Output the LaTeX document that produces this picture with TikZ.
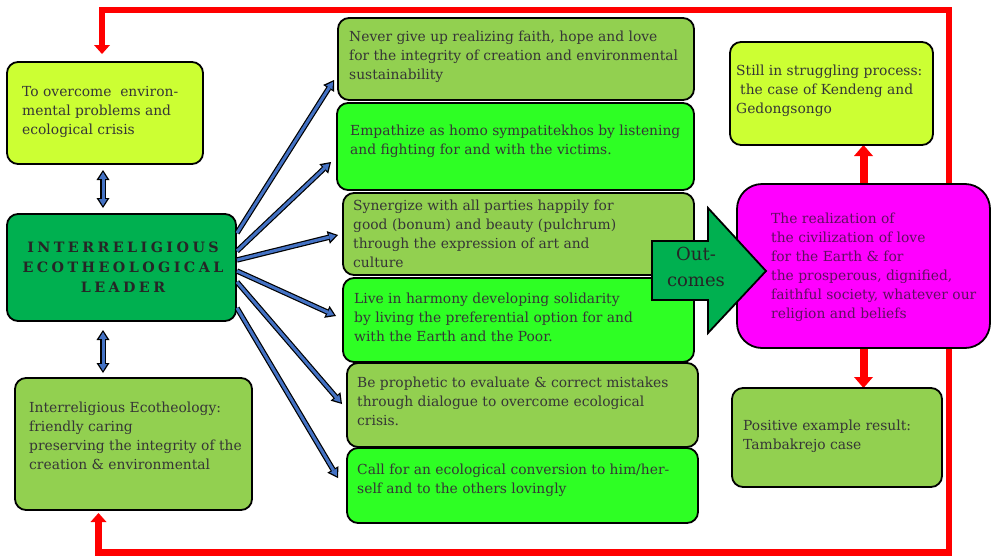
\documentclass[tikz,border=0pt]{standalone}
\usepackage{fontspec}
\setmainfont{DejaVu Serif}
\usetikzlibrary{calc,arrows.meta}
\definecolor{ylg}{HTML}{CCFF33}
\definecolor{olg}{HTML}{92D050}
\definecolor{brg}{HTML}{2EFF24}
\definecolor{ldg}{HTML}{00B050}
\definecolor{mgc}{HTML}{FF00FF}
\definecolor{blu}{HTML}{4472C4}
\definecolor{txtg}{HTML}{363636}
\definecolor{txtm}{HTML}{5E0F5E}
\newcommand\fs{\fontsize{13.85}{19}\selectfont}
\newcommand\tl{\rule{0pt}{12pt}}
\newcommand\bluearr[2]{\draw[bo] #1 -- #2; \draw[bi] #1 -- #2;}
\newcommand\bluedbl[2]{\draw[dbo] #1 -- #2; \draw[dbi] #1 -- #2;}
\pgfdeclarelayer{bg}
\pgfsetlayers{bg,main}
\begin{document}
\begin{tikzpicture}[x=1pt,y=-1pt,
 box/.style={draw=black, line width=1.8pt, rounded corners=11pt, anchor=north west, inner sep=0pt, outer sep=0pt},
 txt/.style={anchor=north west, inner sep=0pt, align=left, font=\fs, text=txtg},
 redl/.style={draw=red, line width=6.5pt},
 redtip/.style={-{Triangle[length=9pt,width=16pt,line width=0pt]}},
 fatred/.style={draw=red, line width=8pt, -{Triangle[length=11pt,width=19pt,line width=0pt]}},
 bo/.style={line width=5.4pt, draw=black, -{Triangle[length=10pt,width=13pt,line width=0pt]}},
 bi/.style={line width=3.0pt, draw=blu, shorten >=2.2pt, -{Triangle[length=6.6pt,width=8pt,line width=0pt]}},
 dbo/.style={line width=5.4pt, draw=black, {Triangle[length=10pt,width=13pt,line width=0pt]}-{Triangle[length=10pt,width=13pt,line width=0pt]}},
 dbi/.style={line width=3.0pt, draw=blu, shorten >=2.2pt, shorten <=2.2pt, {Triangle[length=6.6pt,width=8pt,line width=0pt]}-{Triangle[length=6.6pt,width=8pt,line width=0pt]}},
]
\useasboundingbox (0,0) rectangle (992,557);
\begin{pgfonlayer}{bg}
\fill[white] (0,0) rectangle (992,557);
\end{pgfonlayer}

% left column
\node[box, fill=ylg, minimum width=196pt, minimum height=102pt] (A) at (7,62) {};
\node[box, fill=ldg, minimum width=229pt, minimum height=107pt, align=center, text=black!85,
  font={\fontsize{14.3}{20}\selectfont\bfseries\addfontfeatures{LetterSpace=24}}] (L) at (7,214)
  {\hspace*{3pt}INTERRELIGIOUS\\\hspace*{3pt}ECOTHEOLOGICAL\\\hspace*{3pt}LEADER};
\node[box, fill=olg, minimum width=237pt, minimum height=132pt] (E) at (15,378) {};

% middle column
\node[box, fill=olg, minimum width=356pt, minimum height=82pt] (M1) at (338,18) {};
\node[box, fill=brg, minimum width=357pt, minimum height=87pt] (M2) at (337,103) {};
\node[box, fill=olg, minimum width=351pt, minimum height=82pt] (M3) at (343,193) {};
\node[box, fill=brg, minimum width=351pt, minimum height=84pt] (M4) at (343,278) {};
\node[box, fill=olg, minimum width=351pt, minimum height=84pt] (M5) at (347,363) {};
\node[box, fill=brg, minimum width=351pt, minimum height=75pt] (M6) at (347,448) {};

% right column
\node[box, fill=ylg, minimum width=203pt, minimum height=103pt] (TR) at (730,42) {};
\node[box, fill=mgc, minimum width=253pt, minimum height=164pt, rounded corners=25pt] (MG) at (737,184) {};
\node[box, fill=olg, minimum width=210pt, minimum height=99pt] (BR) at (732,388) {};

% texts
\node[txt] (At) at ($(A.north west)+(15,22)$) {\tl To overcome\ \ environ-\\mental problems and\\ecological crisis};
\node[txt] (Et) at ($(E.north west)+(14,22)$) {\tl Interreligious Ecotheology:\\friendly caring\\preserving the integrity of the\\creation \& environmental};
\node[txt] (M1t) at ($(M1.north west)+(11,11)$) {\tl Never give up realizing faith, hope and love\\for the integrity of creation and environmental\\sustainability};
\node[txt] (M2t) at ($(M2.north west)+(13,20)$) {\tl Empathize as homo sympatitekhos by listening\\and fighting for and with the victims.};
\node[txt] (M3t) at ($(M3.north west)+(10,5)$) {\tl Synergize with all parties happily for\\good (bonum) and beauty (pulchrum)\\through the expression of art and\\culture};
\node[txt] (M4t) at ($(M4.north west)+(11,13)$) {\tl Live in harmony developing solidarity\\by living the preferential option for and\\with the Earth and the Poor.};
\node[txt] (M5t) at ($(M5.north west)+(10,12)$) {\tl Be prophetic to evaluate \& correct mistakes\\through dialogue to overcome ecological\\crisis.};
\node[txt] (M6t) at ($(M6.north west)+(10,14)$) {\tl Call for an ecological conversion to him/her-\\self and to the others lovingly};
\node[txt] (TRt) at ($(TR.north west)+(6,21)$) {\tl Still in struggling process:\\\hspace{4pt}the case of Kendeng and\\Gedongsongo};
\node[txt, text=txtm] (MGt) at ($(MG.north west)+(34,27)$) {\tl The realization of\\the civilization of love\\for the Earth \& for\\the prosperous, dignified,\\faithful society, whatever our\\religion and beliefs};
\node[txt] (BRt) at ($(BR.north west)+(11,30)$) {\tl Positive example result:\\Tambakrejo case};

% outcomes arrow
\draw[fill=ldg, draw=black, line width=1.8pt] (652,241) -- (708,241) -- (708,208) -- (766,271) -- (708,333) -- (708,300) -- (652,300) -- cycle;
\node[anchor=north, inner sep=0pt, align=center, text=black!85, font={\fontsize{18}{26}\selectfont}] (OC) at (696,246) {\rule{0pt}{14pt}Out-\\comes};

% blue arrows
\bluearr{($(L.east)+(1,-34.5)$)}{($(M1.west)+(-4,21)$)}
\bluearr{($(L.east)+(1,-16.5)$)}{($(M2.west)+(-6,15.5)$)}
\bluearr{($(L.east)+(1,-7.5)$)}{($(M3.west)+(-5,1)$)}
\bluearr{($(L.east)+(1,3.5)$)}{($(M4.west)+(-7,-4)$)}
\bluearr{($(L.east)+(1,14.5)$)}{($(M5.west)+(-5,-1)$)}
\bluearr{($(L.east)+(1,40.5)$)}{($(M6.west)+(-9,-7.5)$)}

\coordinate (xv) at (103,0);
\bluedbl{($(A.south -| xv)+(0,6)$)}{($(L.north -| xv)+(0,-6)$)}
\bluedbl{($(L.south -| xv)+(0,9)$)}{($(E.north -| xv)+(0,-5)$)}

% red feedback loop
\coordinate (RT) at (949,10);
\coordinate (RB) at (949,552.5);
\coordinate (LT) at (102,10);
\coordinate (LB) at (98.5,552.5);
\begin{pgfonlayer}{bg}
\draw[redl, redtip, shorten >=8pt] (MG.north -| RT) -- (RT) -- (LT) -- (LT |- A.north);
\draw[redl, redtip, shorten >=3pt] (MG.south -| RB) -- (RB) -- (LB) -- (LB |- E.south);
\draw[fatred] (MG.north) -- (MG.north |- TR.south);
\draw[fatred] (MG.south) -- (MG.south |- BR.north);
\end{pgfonlayer}
\end{tikzpicture}
\end{document}
